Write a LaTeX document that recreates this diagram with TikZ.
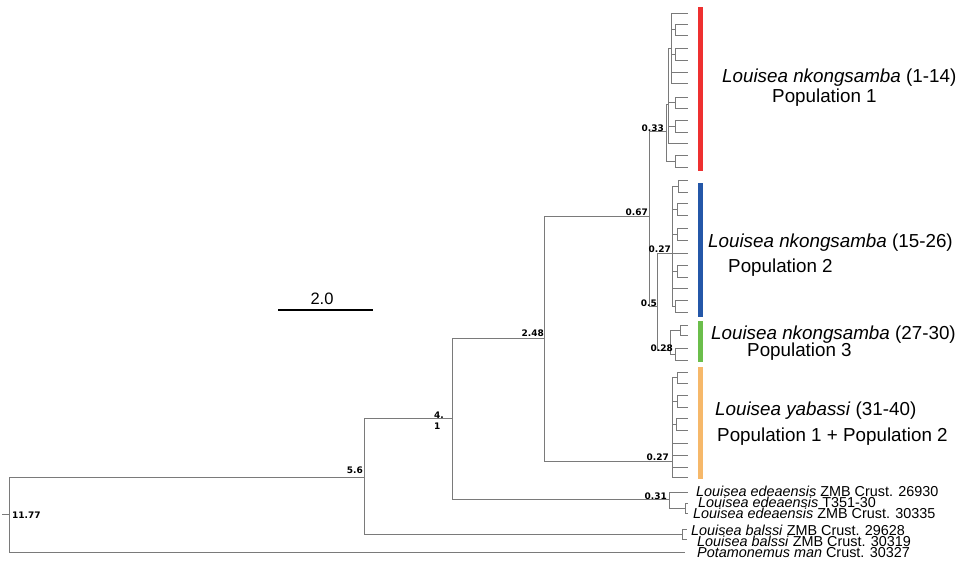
\documentclass[tikz,border=0pt]{standalone}
\usepackage{fontspec}
\setmainfont{Liberation Sans}
\newfontfamily\supfont{DejaVu Sans}
\usepackage{tikz}
\usetikzlibrary{positioning}

\definecolor{popred}{HTML}{EE3030}
\definecolor{popblue}{HTML}{2457A8}
\definecolor{popgreen}{HTML}{6BBE4B}
\definecolor{poporange}{HTML}{F6B86A}
\definecolor{branch}{HTML}{7A7A7A}

\begin{document}
\begin{tikzpicture}[x=1pt,y=-1pt,
    br/.style={draw=branch, line width=0.9pt},
    supp/.style={font=\supfont\bfseries\fontsize{9}{11}\selectfont, inner sep=0pt},
    tiplab/.style={anchor=base west, inner sep=0pt, font=\fontsize{14.4}{16}\selectfont},
    cladelab/.style={anchor=base west, inner sep=0pt, font=\fontsize{18.8}{22}\selectfont},
    cladebar/.style={line width=5pt}]
    \useasboundingbox (0,0) rectangle (971,560);

    % Tips of the four nkongsamba / yabassi clades
    \foreach \i/\y in {1/13, 2/24, 3/35, 4/48, 5/60, 6/72, 7/83, 8/97, 9/108, 10/120,
        11/132, 12/143, 13/155, 14/167, 15/180, 16/192, 17/203, 18/215, 19/228, 20/240,
        21/253, 22/265, 23/277, 24/288, 25/300, 26/312, 27/325, 28/335, 29/348, 30/360,
        31/372, 32/383, 33/395, 34/407, 35/418, 36/430, 37/443, 38/455, 39/467, 40/477} {
        \coordinate (t\i) at (688, \y);
    }
    % Outgroup tips
    \coordinate (e1) at (688, 492);
    \coordinate (e2) at (688, 503);
    \coordinate (e3) at (688, 513);
    \coordinate (b1) at (687, 529);
    \coordinate (b2) at (687, 539);
    \coordinate (pot) at (685, 552);

    % Internal nodes
    \foreach \n/\x/\y in {R/9/514, A/364/477, B/452/418, C/544/338, D/649/216,
        E/666/131, F/657/306, G/672/253, H/670/350, I/672/461, J/669/499,
        J2/685/508, K/682/534, P/668/104, U1/671/48,
        c23/675/29.5, c45/675/54, c89/675/102.5, c1011/675/126, c1314/675/161,
        c1516/678/186, c1718/677/209, c1920/677/234, c2223/677/271, c2526/675/306,
        c2728/680/330, c2930/675/354,
        c3132/677/377.5, c3334/677/401, c3536/676/424} {
        \coordinate (\n) at (\x, \y);
    }
    \coordinate (stem) at (2, 514);

    % Branches
    \draw[br] (stem) -- (R);
    \foreach \p/\c in {R/A, R/pot, A/B, A/K, B/C, B/J, C/D, C/I, D/E, D/F, F/G, F/H,
        E/P, E/c1314, P/U1, P/c89, P/c1011, P/t12,
        U1/t1, U1/c23, U1/c45, U1/t6, U1/t7,
        c23/t2, c23/t3, c45/t4, c45/t5, c89/t8, c89/t9, c1011/t10, c1011/t11,
        c1314/t13, c1314/t14,
        G/c1516, G/c1718, G/c1920, G/t21, G/c2223, G/t24, G/c2526,
        c1516/t15, c1516/t16, c1718/t17, c1718/t18, c1920/t19, c1920/t20,
        c2223/t22, c2223/t23, c2526/t25, c2526/t26,
        H/c2728, H/c2930, c2728/t27, c2728/t28, c2930/t29, c2930/t30,
        I/c3132, I/c3334, I/c3536, I/t37, I/t38, I/t39, I/t40,
        c3132/t31, c3132/t32, c3334/t33, c3334/t34, c3536/t35, c3536/t36,
        J/e1, J/J2, J2/e2, J2/e3, K/b1, K/b2} {
        \draw[br] (\p) |- (\c);
    }

    % Node values
    \node[supp, anchor=west] (s1177) at (12, 515) {11.77};
    \node[supp, anchor=east] (s56) at (363, 470) {5.6};
    \node[supp, anchor=east, align=left] (s41) at (444, 421) {4.\\1};
    \node[supp, anchor=east] (s248) at (544, 333) {2.48};
    \node[supp, anchor=east] (s067) at (648, 212) {0.67};
    \node[supp, anchor=east] (s033) at (664, 128) {0.33};
    \node[supp, anchor=east] (s027a) at (671, 249) {0.27};
    \node[supp, anchor=east] (s05) at (657, 303) {0.5};
    \node[supp, anchor=east] (s028) at (673, 348) {0.28};
    \node[supp, anchor=east] (s027b) at (669, 457) {0.27};
    \node[supp, anchor=east] (s031) at (667, 496) {0.31};

    % Population bars
    \draw[cladebar, popred] (700.5, 7) -- (700.5, 171);
    \draw[cladebar, popblue] (700.5, 183) -- (700.5, 317);
    \draw[cladebar, popgreen] (700.5, 321) -- (700.5, 362);
    \draw[cladebar, poporange] (700.5, 367) -- (700.5, 479);

    % Clade labels
    \node[cladelab] (nk1) at (722, 82) {\textit{Louisea nkongsamba} (1-14)};
    \node[cladelab] (pop1) at (772, 102) {Population 1};
    \node[cladelab] (nk2) at (708, 247) {\textit{Louisea nkongsamba} (15-26)};
    \node[cladelab] (pop2) at (728, 272) {Population 2};
    \node[cladelab] (nk3) at (711, 339) {\textit{Louisea nkongsamba} (27-30)};
    \node[cladelab] (pop3) at (747, 356) {Population 3};
    \node[cladelab] (yab) at (715, 415) {\textit{Louisea yabassi} (31-40)};
    \node[cladelab] (pop12) at (717, 441) {Population 1 + Population 2};

    % Outgroup labels
    \node[tiplab] (le1) at (696, 496) {\textit{Louisea edeaensis} ZMB Crust. 26930};
    \node[tiplab] (le2) at (698, 507) {\textit{Louisea edeaensis} T351-30};
    \node[tiplab] (le3) at (693, 518) {\textit{Louisea edeaensis} ZMB Crust. 30335};
    \node[tiplab] (lb1) at (691, 535) {\textit{Louisea balssi} ZMB Crust. 29628};
    \node[tiplab] (lb2) at (697, 546) {\textit{Louisea balssi} ZMB Crust. 30319};
    \node[tiplab] (lpot) at (697, 557) {\textit{Potamonemus man} Crust. 30327};

    % Scale bar
    \coordinate (sc1) at (278, 310);
    \coordinate (sc2) at (373, 310);
    \draw[line width=1.6pt] (sc1) -- (sc2);
    \node[font=\fontsize{16.5}{18}\selectfont, inner sep=0pt] (scl) at (322, 299) {2.0};
\end{tikzpicture}
\end{document}
